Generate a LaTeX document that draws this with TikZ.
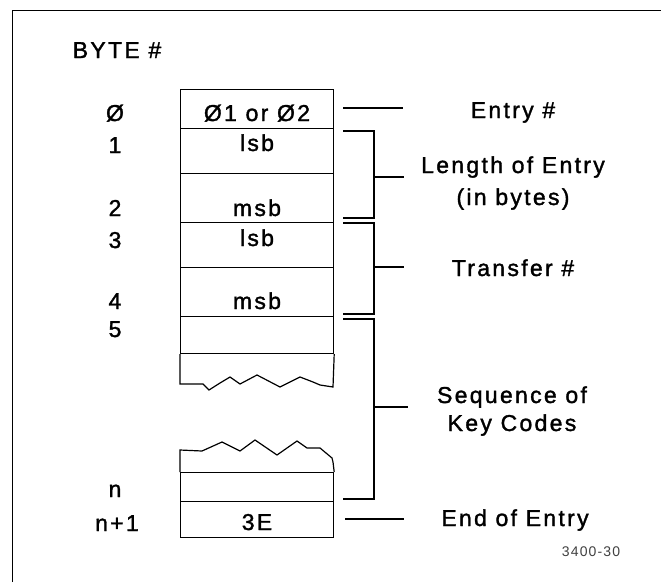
\documentclass[tikz,border=0pt]{standalone}
\usepackage{fontspec}
\setmainfont{Liberation Sans}[LetterSpace=10, FakeBold=1.5]
\newfontfamily\figfont{Liberation Sans}[LetterSpace=8]
\usetikzlibrary{positioning}

\begin{document}
\begin{tikzpicture}[
		x=1pt, y=-1pt,
		line width=1.2pt,
		cell/.style={draw, anchor=north west, minimum width=153pt, inner sep=0pt},
		txt/.style={inner sep=0pt, text height=16pt, text depth=0pt, font=\fontsize{23}{27}\selectfont},
		small/.style={inner sep=0pt, font=\figfont\fontsize{14}{16}\selectfont, text=black!75},
	]
	\useasboundingbox (0,0) rectangle (661,582);
	\draw[line width=1pt] (12,582) -- (12,10) -- (661,10);

	\node[txt] (title) at (117,50) {BYTE \#};

	% byte cells
	\node[cell, minimum height=39pt] (c0) at (180,89) {};
	\node[cell, minimum height=45pt] (c1) at (180,128) {};
	\node[cell, minimum height=49pt] (c2) at (180,173) {};
	\node[cell, minimum height=45pt] (c3) at (180,222) {};
	\node[cell, minimum height=49pt] (c4) at (180,267) {};
	\node[cell, minimum height=37pt] (c5) at (180,316) {};
	\node[cell, minimum height=29pt] (cn) at (180,472) {};
	\node[cell, minimum height=36pt] (cn1) at (180,501) {};

	% torn edges
	\draw (c5.south west) -- (180,384) -- (203,384) -- (209,390) -- (220,383) -- (230,377)
		-- (240,384) -- (257,375) -- (280,387) -- (300,377) -- (313,382) -- (320,385)
		-- (333,387) -- (c5.south east);
	\draw (cn.north west) -- (180,450) -- (202,451) -- (222,442) -- (240,451) -- (255,440)
		-- (277,455) -- (297,441) -- (307,448) -- (320,448) -- (332,458) -- (333,462)
		-- (cn.north east);

	% cell contents
	\node[txt] (v0) at (257,113) {Ø1 or Ø2};
	\node[txt] (v1) at (257,143) {lsb};
	\node[txt] (v2) at (257,208) {msb};
	\node[txt] (v3) at (257,238) {lsb};
	\node[txt] (v4) at (257,301) {msb};
	\node[txt] (vn1) at (257,522) {3E};

	% byte numbers
	\node[txt] (b0) at (115,113) {Ø};
	\node[txt] (b1) at (115,145) {1};
	\node[txt] (b2) at (115,208) {2};
	\node[txt] (b3) at (115,240) {3};
	\node[txt] (b4) at (115,301) {4};
	\node[txt] (b5) at (115,329) {5};
	\node[txt] (bn) at (115,489) {n};
	\node[txt] (bn1) at (117,523) {n+1};

	% field labels
	\node[txt] (entry) at (513,110) {Entry \#};
	\node[txt] (len) at (513,165) {Length of Entry};
	\node[txt] (lenb) at (513,197) {(in bytes)};
	\node[txt] (xfer) at (513,268) {Transfer \#};
	\node[txt] (seq) at (512,395) {Sequence of};
	\node[txt] (seqb) at (512,423) {Key Codes};
	\node[txt] (eoe) at (515,518) {End of Entry};
	\node[small] (fig) at (591,552) {3400-30};

	% brackets
	\coordinate (entryA) at (343,108);
	\coordinate (entryB) at (403,108);
	\draw (entryA) -- (entryB);

	\coordinate (lenT) at (343,131);
	\coordinate (lenB) at (343,218);
	\coordinate (lenM) at (374,177);
	\draw (lenT) -- (374,131) -- (374,218) -- (lenB);
	\draw (lenM) -- ++(30,0);

	\coordinate (xferT) at (343,223);
	\coordinate (xferB) at (343,314);
	\coordinate (xferM) at (374,267);
	\draw (xferT) -- (374,223) -- (374,314) -- (xferB);
	\draw (xferM) -- ++(30,0);

	\coordinate (seqT) at (343,319);
	\coordinate (seqB) at (343,499);
	\coordinate (seqM) at (374,407);
	\draw (seqT) -- (374,319) -- (374,499) -- (seqB);
	\draw (seqM) -- ++(34,0);

	\coordinate (eoeA) at (345,519);
	\coordinate (eoeB) at (404,519);
	\draw (eoeA) -- (eoeB);
\end{tikzpicture}
\end{document}
